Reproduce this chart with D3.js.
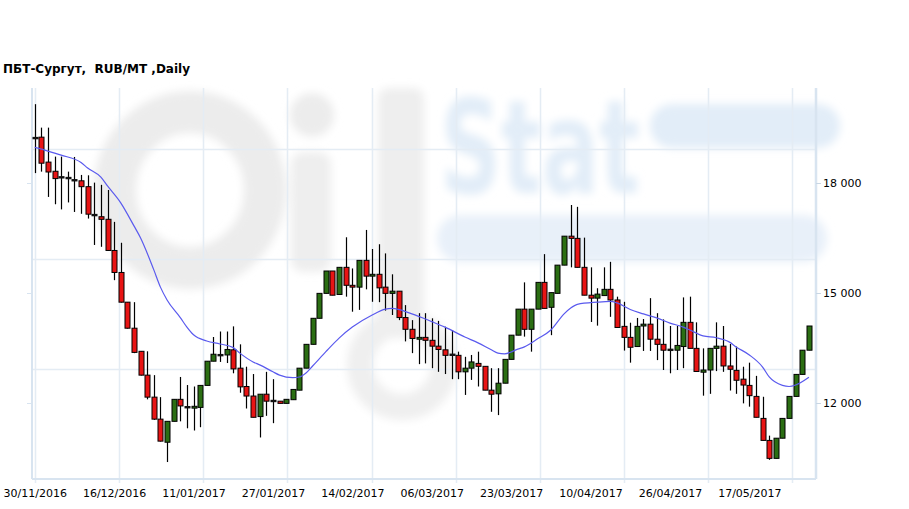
<!DOCTYPE html>
<html><head><meta charset="utf-8">
<script src="https://cdn.jsdelivr.net/npm/d3@7/dist/d3.min.js"></script>
<style>
html,body{margin:0;padding:0;background:#fff;}
svg{display:block;}
text{font-family:"DejaVu Sans",Verdana,sans-serif;}
</style></head>
<body>
<div id="chart"></div>
<script>
// ---- data ----
const titleText = "ПБТ-Сургут,  RUB/MT ,Daily";
const openV = [19230,19250,18570,18320,18160,18140,18080,18060,17900,17130,17080,17010,16160,15560,14750,14040,13410,12760,12160,11560,
10930,11500,12100,11890,11860,11880,12480,13140,13310,13310,13450,12950,12450,12190,11630,12240,12060,12050,11990,12090,
12350,12950,13600,14310,14990,15600,14960,15700,15210,15160,15890,15460,15510,15160,14990,15050,14330,14010,13740,13790,
13710,13550,13450,13320,13300,12850,12950,13080,13000,12350,12250,12540,13190,13850,14560,14010,14560,15290,14610,14990,
15760,16550,16490,15700,14940,14860,14930,15100,14810,14090,13790,13540,14100,14150,13740,13600,13440,13440,13540,14200,
13490,12840,12900,13490,13550,13010,12890,12650,12480,12180,11580,10980,10490,11040,11580,12180,12780,13440];
const highV = [20150,19510,19510,18720,18720,18310,18710,18220,18210,18010,17950,17810,16940,16370,14750,14750,13410,13410,12760,12160,
11500,12100,12710,12490,12450,12480,13140,13800,13950,13950,14090,13600,12990,12790,12240,12850,12650,12050,12100,12370,
12950,13600,14310,14990,15600,15600,15700,16520,15670,15890,16720,16200,16330,16080,15510,15050,14670,14260,14450,14450,
14310,14240,14080,13990,13400,13260,13310,13400,13000,12950,12950,13190,13850,14560,15290,14560,15290,16060,15010,15760,
16550,17400,17350,16510,15700,15130,15700,15850,14900,14760,14190,14320,14290,14860,14450,14280,14100,14100,14880,14900,
14200,13490,13490,14200,14100,13610,13540,12990,13100,12740,12170,11110,11040,11580,12180,12780,13440,14100];
const lowV = [18270,18310,17620,17420,17280,17470,17210,17160,17030,16310,16260,16150,15350,14740,14030,13360,12750,12100,11540,10950,
10390,11500,11500,11310,11250,11340,12480,13140,13120,13090,12810,12280,11850,11610,11060,11650,11450,11990,11990,12090,
12350,12950,13600,14310,14990,14940,14960,14900,14490,14540,15100,14760,14750,14520,14400,14260,13680,13360,13060,13080,
12950,12850,12790,12650,12650,12220,12630,12450,12350,11760,11670,12540,13190,13850,13810,13400,14560,14580,13850,14990,
15760,15700,15700,14940,14210,14110,14930,14350,14060,13430,13100,13540,13420,13420,13170,12900,12810,12900,12950,13490,
12860,12200,12250,12870,12850,12340,12250,11990,11900,11610,10980,10450,10490,11040,11580,12180,12780,13440];
const closeV = [19220,18540,18300,18120,18150,18130,18070,17900,17150,17120,17010,16160,15560,14750,14040,13380,12760,12160,11560,10960,
11500,12100,11920,11880,11910,12480,13140,13330,13300,13460,12930,12440,12190,11610,12240,12050,12050,11990,12100,12370,
12950,13600,14310,14990,15600,14940,15700,15210,15160,15890,15460,15510,15140,14990,15050,14330,14010,13760,13790,13710,
13550,13460,13300,13310,12850,12950,13120,13000,12350,12240,12540,13190,13850,14560,14010,14560,15290,14580,15010,15760,
16550,16490,15700,14940,14860,14970,15100,14810,14060,13790,13520,14090,14150,13740,13600,13440,13460,13570,14200,13490,
12860,12900,13490,13550,13010,12920,12620,12490,12200,11610,10980,10490,11040,11580,12180,12780,13440,14100];
// moving average (candle index -> value)
const maIndex = [0,2,4,7,8,10,11,13,15,16,18,19,20,22,23,24,26,28,30,31,33,34,36,37,39,40,41,42,44,46,48,51,53,54,57,60,62,65,67,69,70,71,73,74,76,78,80,81,82,85,87,88,90,92,94,96,98,99,101,103,105,106,108,110,111,113,114,115,117];
const maValue = [18970,18870,18760,18560,18410,18160,17920,17460,16830,16500,15630,15160,14810,14330,14070,13860,13690,13610,13510,13360,13120,13040,12850,12760,12690,12710,12820,13010,13400,13770,14070,14400,14560,14580,14430,14220,14070,13800,13640,13450,13360,13340,13470,13530,13750,13990,14430,14590,14690,14750,14770,14730,14550,14430,14320,14180,14070,13990,13830,13780,13660,13530,13310,12980,12710,12480,12450,12490,12700];
const tickIdx = [0,12,24,36,48,60,72,84,96,108];
const tickLabels = ["30/11/2016","16/12/2016","11/01/2017","27/01/2017","14/02/2017","06/03/2017","23/03/2017","10/04/2017","26/04/2017","17/05/2017"];
const yTicks = [12000,15000,18000];
const gridYValues = [12927,15927,18927];
const gridXIndex = [0,12.7,25.4,38.1,50.9,63.6,76.3,89.0,101.7,114.4];

// ---- drawing ----
const W = 909, H = 509;
const svg = d3.select("#chart").append("svg").attr("width", W).attr("height", H);
const x = d3.scaleLinear().domain([-0.41, 118.07]).range([32, 816]);
const y = d3.scaleLinear().domain([12000, 18000]).range([403, 183]);
const plotTop = 88, plotBottom = 479, plotLeft = 32, plotRight = 816;

// watermark
const defs = svg.append("defs");
defs.append("filter").attr("id","blur").append("feGaussianBlur").attr("stdDeviation", 4);
const wm = svg.append("g").attr("filter","url(#blur)");
wm.append("ellipse").attr("cx",190).attr("cy",190).attr("rx",75).attr("ry",78)
  .attr("fill","none").attr("stroke","#ececec").attr("stroke-width",42);
wm.append("circle").attr("cx",312).attr("cy",115).attr("r",22).attr("fill","#ececec");
wm.append("rect").attr("x",291).attr("y",152).attr("width",40).attr("height",120).attr("rx",12).attr("fill","#eeeeee");
wm.append("rect").attr("x",378).attr("y",88).attr("width",46).attr("height",250).attr("rx",10).attr("fill","#eeeeee");
wm.append("circle").attr("cx",402).attr("cy",365).attr("r",42).attr("fill","none").attr("stroke","#efefef").attr("stroke-width",26);
wm.append("text").attr("x",440).attr("y",193).attr("font-size",130).attr("font-weight","bold")
  .attr("textLength",200).attr("lengthAdjust","spacingAndGlyphs").attr("fill","#e2edf8").text("Stat");
wm.append("rect").attr("x",650).attr("y",104).attr("width",190).attr("height",44).attr("rx",22).attr("fill","#e2edf8");
wm.append("rect").attr("x",437).attr("y",215).attr("width",390).attr("height",47).attr("rx",23).attr("fill","#e8f0f9");

// grid
const grid = svg.append("g").attr("stroke","#e4ecf4").attr("stroke-width",1.5);
gridYValues.forEach(v => grid.append("line").attr("x1",plotLeft).attr("x2",plotRight).attr("y1",Math.round(y(v))+0.5).attr("y2",Math.round(y(v))+0.5));
gridXIndex.forEach(i => grid.append("line").attr("y1",plotTop).attr("y2",plotBottom+4).attr("x1",Math.round(x(i))+0.5).attr("x2",Math.round(x(i))+0.5));
// borders
const bord = svg.append("g").attr("stroke","#d8e4f0");
bord.append("line").attr("x1",plotLeft).attr("x2",plotLeft).attr("y1",plotTop).attr("y2",plotBottom).attr("stroke-width",2);
bord.append("line").attr("x1",plotLeft).attr("x2",plotRight).attr("y1",plotBottom).attr("y2",plotBottom).attr("stroke-width",2);
bord.append("line").attr("x1",plotRight).attr("x2",plotRight).attr("y1",plotTop).attr("y2",plotBottom).attr("stroke-width",2.5);
yTicks.forEach(v => bord.append("line").attr("x1",plotLeft-5).attr("x2",plotLeft).attr("y1",Math.round(y(v))+0.5).attr("y2",Math.round(y(v))+0.5).attr("stroke-width",1));

// candles
const idx = d3.range(openV.length);
const cg = svg.append("g");
const bw = 5;
idx.forEach(i => {
  const cx = Math.round(x(i)) + 0.5;
  cg.append("line").attr("x1",cx).attr("x2",cx).attr("y1",y(highV[i])).attr("y2",y(lowV[i]))
    .attr("stroke","#000").attr("stroke-width",1.2);
});
idx.forEach(i => {
  const cx = Math.round(x(i)) + 0.5;
  const yo = y(openV[i]), yc = y(closeV[i]);
  const top = Math.min(yo,yc), h = Math.abs(yo-yc);
  const up = closeV[i] >= openV[i];
  if (h < 1.5) {
    cg.append("rect").attr("x",cx-bw/2-0.5).attr("y",(yo+yc)/2-1.2).attr("width",bw+1).attr("height",2.4)
      .attr("fill","#111");
  } else {
    cg.append("rect").attr("x",cx-bw/2).attr("y",top).attr("width",bw).attr("height",h)
      .attr("fill", up ? "#2b6e13" : "#e81414").attr("stroke","#000").attr("stroke-width",1);
  }
});

// moving average
const line = d3.line().x(d => x(d[0])).y(d => y(d[1])).curve(d3.curveMonotoneX);
svg.append("path").datum(maIndex.map((k,j)=>[k,maValue[j]]))
  .attr("d", line).attr("fill","none").attr("stroke","#5a5aee").attr("stroke-width",1.2);

// right axis
const yAxis = d3.axisRight(y).tickValues(yTicks).tickSize(5).tickPadding(2)
  .tickFormat(d => d3.format(",")(d).replace(/,/g," "));
const ya = svg.append("g").attr("transform",`translate(${plotRight},0)`).call(yAxis);
ya.select(".domain").remove();
ya.selectAll(".tick line").attr("stroke","#c8d6e4");
ya.selectAll(".tick text").attr("font-size",11).attr("fill","#000").attr("font-family","DejaVu Sans").attr("dy","0.36em");

// x axis labels
const xAxis = d3.axisBottom(x).tickValues(tickIdx).tickSize(0).tickPadding(0)
  .tickFormat((d,j) => tickLabels[j]);
const xa = svg.append("g").attr("transform",`translate(0,${plotBottom})`).call(xAxis);
xa.select(".domain").remove();
xa.selectAll(".tick text").attr("font-size",11).attr("fill","#000").attr("font-family","DejaVu Sans").attr("dy",null).attr("y",18);

// title
svg.append("text").attr("x",3).attr("y",73).attr("font-size",12).attr("font-weight","bold")
  .style("white-space","pre").attr("fill","#000").text(titleText);
</script>
</body></html>
